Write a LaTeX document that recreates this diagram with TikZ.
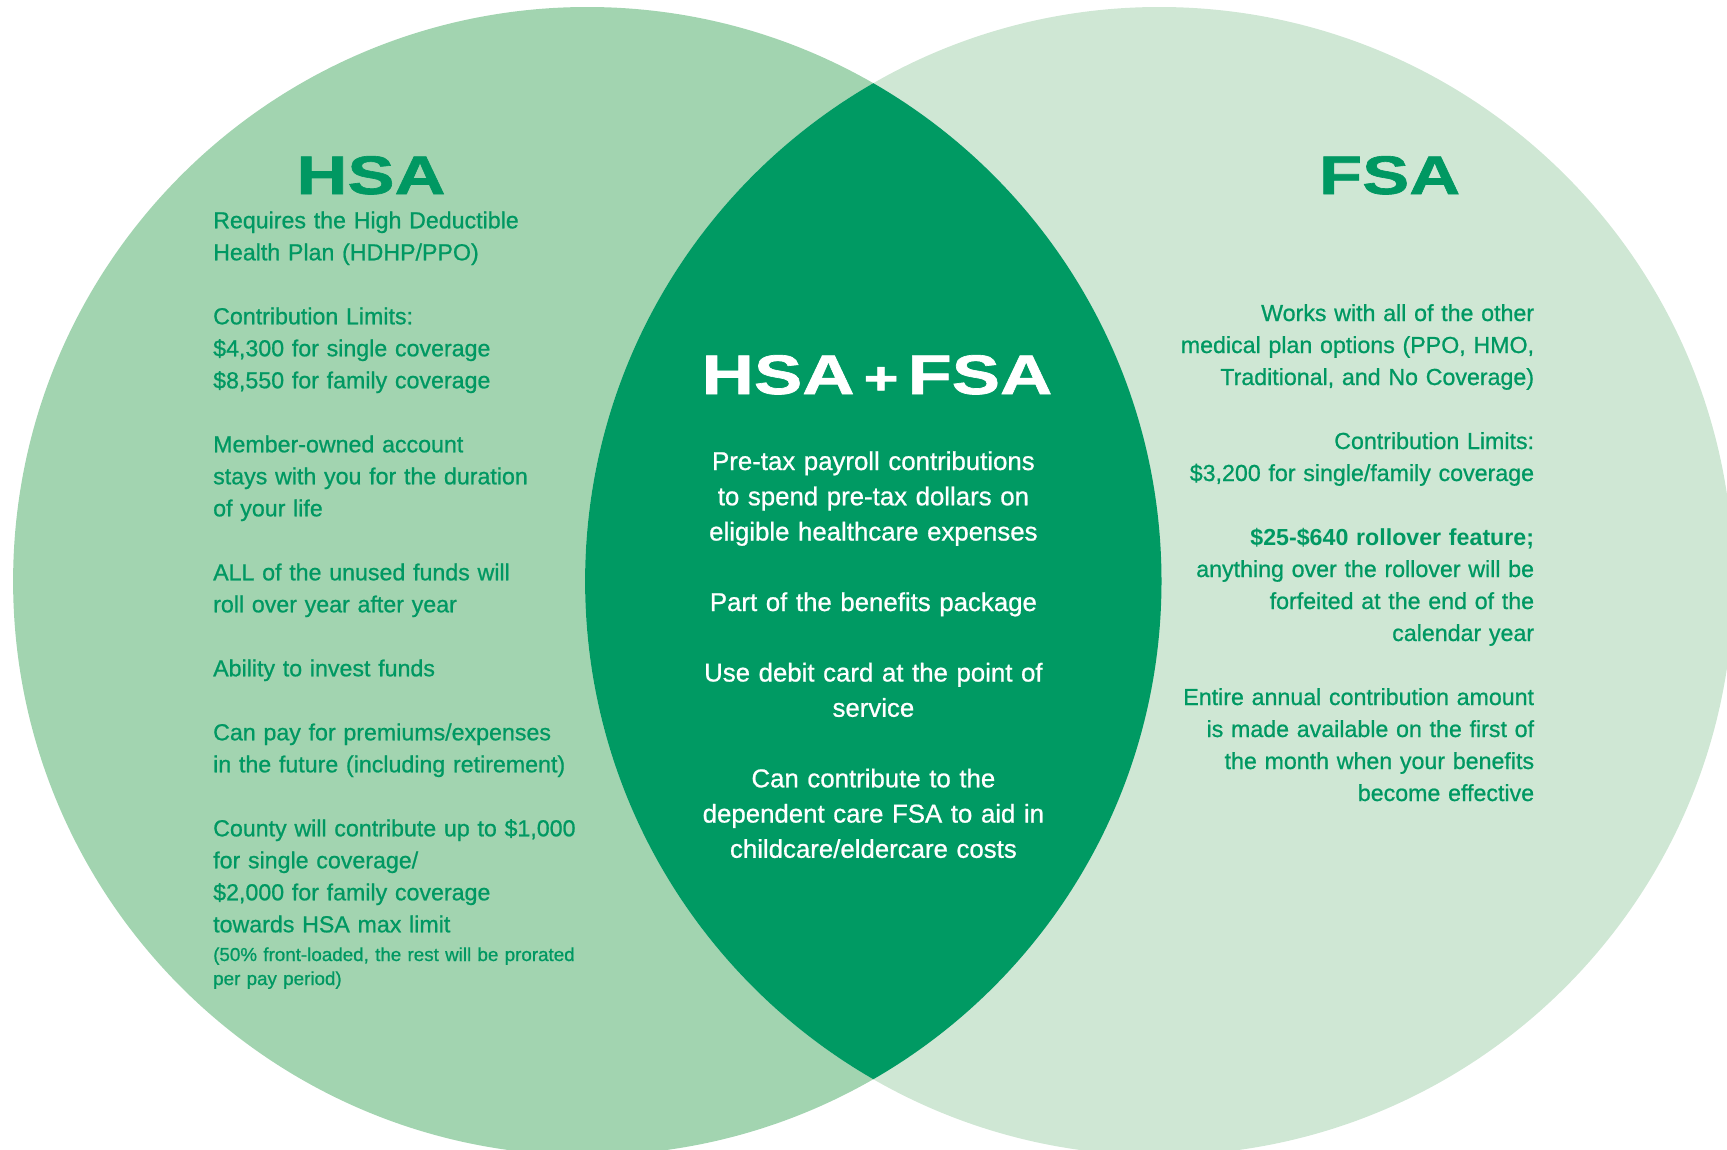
\documentclass[tikz,border=0pt]{standalone}
\usepackage{fontspec}
\usepackage{graphicx}
\setmainfont{Liberation Sans}
\newfontfamily\bodyfont{Liberation Sans}[FakeBold=0.8]
\newfontfamily\widefont{Liberation Sans}[FakeStretch=1.3,FakeBold=1.2]

\definecolor{hsafill}{RGB}{162,212,176}
\definecolor{fsafill}{RGB}{207,231,212}
\definecolor{bothfill}{RGB}{0,154,99}
\definecolor{inkgreen}{RGB}{0,152,98}

\begin{document}
\begin{tikzpicture}[x=1pt,y=-1pt,
  body/.style={inner sep=0pt, text=inkgreen, text width=430pt,
    font=\bodyfont\fontsize{23.2}{32}\selectfont},
  lefttext/.style={body, anchor=base west, align=left},
  righttext/.style={body, anchor=base east, align=right},
  notetext/.style={lefttext, font=\bodyfont\fontsize{18.8}{24}\selectfont},
  midtext/.style={inner sep=0pt, text=white, text width=440pt, anchor=base,
    align=center, font=\bodyfont\fontsize{25.8}{35.25}\selectfont},
  heading/.style={inner sep=0pt, anchor=base,
    font=\widefont\bfseries\fontsize{54.3}{60}\selectfont}]

\useasboundingbox (0,0) rectangle (1727,1149);

% the two sets and their overlap
\coordinate (cH) at (587.3,581.2);
\coordinate (cF) at (1159.3,581.2);
\fill[hsafill] (cH) circle[radius=574.2pt];
\fill[fsafill] (cF) circle[radius=574.2pt];
\begin{scope}
  \clip (cH) circle[radius=574.2pt];
  \fill[bothfill] (cF) circle[radius=574.2pt];
\end{scope}

% headings
\node[heading, text=inkgreen] (hsaTitle) at (371,194) {HSA};
\node[heading, text=inkgreen] (fsaTitle) at (1389.6,194) {FSA};
\node[heading, text=white, font=\widefont\bfseries\fontsize{55.7}{60}\selectfont]
  (bothTitle) at (877,394) {HSA\kern9pt{\fontsize{46}{50}\selectfont+}\kern9pt FSA};

% HSA column
\node[lefttext] (h1) at (213,228.3) {Requires the High Deductible\\Health Plan (HDHP/PPO)};
\node[lefttext] (h2) at (213,324.3) {Contribution Limits:\\\$4,300 for single coverage\\\$8,550 for family coverage};
\node[lefttext] (h3) at (213,452.3) {Member-owned account\\stays with you for the duration\\of your life};
\node[lefttext] (h4) at (213,580.3) {ALL of the unused funds will\\roll over year after year};
\node[lefttext] (h5) at (213,676.3) {Ability to invest funds};
\node[lefttext] (h6) at (213,740.3) {Can pay for premiums/expenses\\in the future (including retirement)};
\node[lefttext] (h7) at (213,836.3) {County will contribute up to \$1,000\\for single coverage/\\\$2,000 for family coverage\\towards HSA max limit};
\node[notetext] (h8) at (213,961) {(50\% front-loaded, the rest will be prorated\\per pay period)};

% shared column
\node[midtext] (m1) at (873.4,470) {Pre-tax payroll contributions\\to spend pre-tax dollars on\\eligible healthcare expenses};
\node[midtext] (m2) at (873.4,611) {Part of the benefits package};
\node[midtext] (m3) at (873.4,681.5) {Use debit card at the point of\\service};
\node[midtext] (m4) at (873.4,787.3) {Can contribute to the\\dependent care FSA to aid in\\childcare/eldercare costs};

% FSA column
\node[righttext] (f1) at (1534.3,321) {Works with all of the other\\medical plan options (PPO, HMO,\\Traditional, and No Coverage)};
\node[righttext] (f2) at (1534.3,449) {Contribution Limits:\\\$3,200 for single/family coverage};
\node[righttext] (f3) at (1534.3,545) {{\fontspec{Liberation Sans}\bfseries \$25-\$640 rollover feature;}\\anything over the rollover will be\\forfeited at the end of the\\calendar year};
\node[righttext] (f4) at (1534.3,705) {Entire annual contribution amount\\is made available on the first of\\the month when your benefits\\become effective};
\end{tikzpicture}
\end{document}
